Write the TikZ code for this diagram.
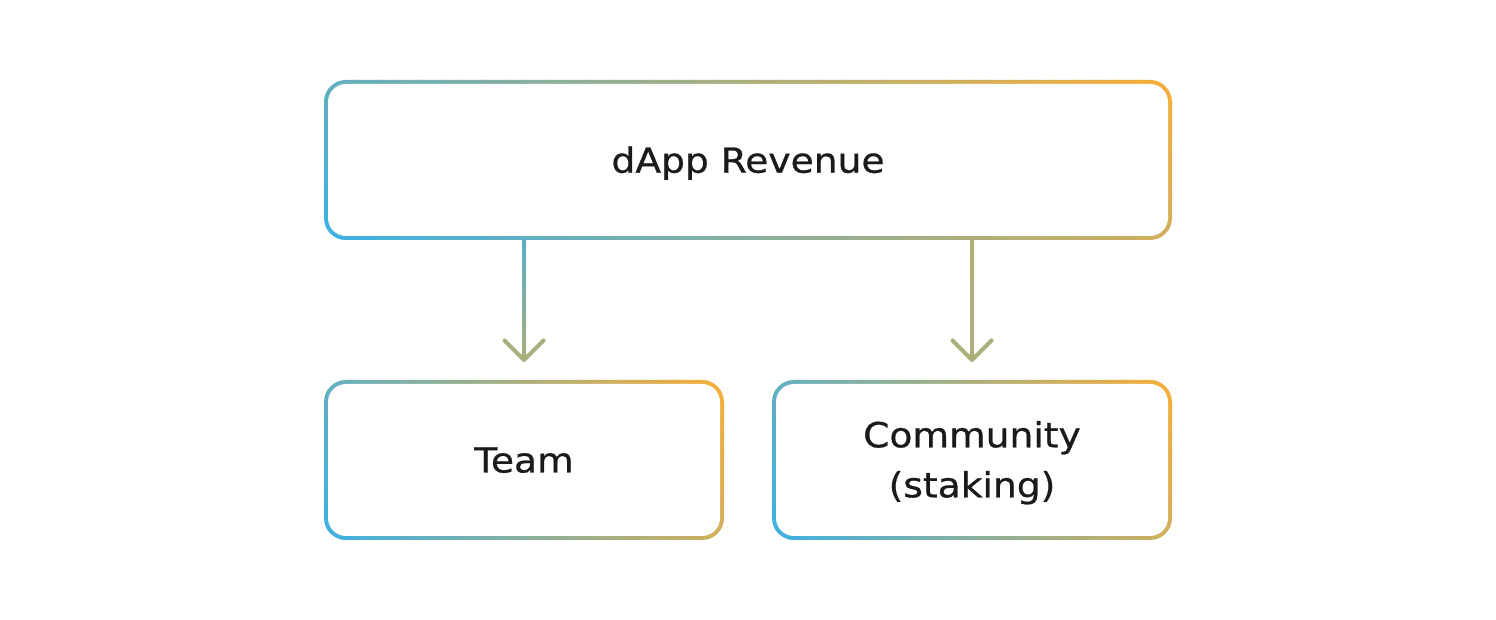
\documentclass[tikz,border=0pt]{standalone}
\usepackage{fontspec}
\setmainfont{DejaVu Sans}[FakeStretch=1.09, FakeBold=0.7]
\usetikzlibrary{calc}
\definecolor{gblue}{HTML}{3DB1E3}
\definecolor{gorange}{HTML}{F7AE39}
\definecolor{txt}{HTML}{1A1A1A}
\definecolor{arLtop}{HTML}{5AAFC8}
\definecolor{arLbot}{HTML}{A8AE7B}
\definecolor{arRtop}{HTML}{B3AE76}
\definecolor{arRbot}{HTML}{ACAE7A}
\tikzset{
  boxarea/.style={minimum width=#1, minimum height=156pt, inner sep=0pt, outer sep=0pt},
  lbl/.style={font=\fontsize{34.5}{50}\selectfont, text=txt, inner sep=0pt, anchor=base, align=center},
  arrowhd/.style={line width=4pt, line cap=round, line join=round},
}
% gradient ring: colour t = 0.8 u + 0.2 v over the box (u,v normalised)
\newcommand\gradring[1]{%
  \begin{scope}
  \clip[rounded corners=22pt]
    ($(#1.south west)+(-2,-2)$) rectangle ($(#1.north east)+(2,2)$);
  \foreach \k in {0,...,54} {
    \pgfmathsetmacro\tA{-0.05+\k*0.02}
    \pgfmathsetmacro\tB{\tA+0.024}
    \pgfmathsetmacro\pc{min(100,max(0,100*(\tA+0.01)))}
    \colorlet{stripc}{gorange!\pc!gblue}
    \fill[stripc] let \p1=(#1.south west), \p2=(#1.north east) in
      ({\x1+(\x2-\x1)*(\tA+0.02)/0.8}, {\y1-0.1*(\y2-\y1)}) --
      ({\x1+(\x2-\x1)*(\tA-0.22)/0.8}, {\y1+1.1*(\y2-\y1)}) --
      ({\x1+(\x2-\x1)*(\tB-0.22)/0.8}, {\y1+1.1*(\y2-\y1)}) --
      ({\x1+(\x2-\x1)*(\tB+0.02)/0.8}, {\y1-0.1*(\y2-\y1)}) -- cycle;
  }
  \end{scope}
  \fill[white, rounded corners=18pt]
    ($(#1.south west)+(2,2)$) rectangle ($(#1.north east)+(-2,-2)$);}
\begin{document}
\begin{tikzpicture}[x=1pt,y=1pt]
\useasboundingbox (0,0) rectangle (1496,620);
\fill[white] (0,0) rectangle (1496,620);
% box areas
\node[boxarea=844pt] (rev) at (748,460) {};
\node[boxarea=396pt] (team) at (524,160) {};
\node[boxarea=396pt] (comm) at (972,160) {};
% gradient borders
\gradring{rev}
\gradring{team}
\gradring{comm}
% labels
\node[lbl] (revt) at (748,447.3) {dApp Revenue};
\node[lbl] (teamt) at (524,147.5) {Team};
\node[lbl] (commt) at (972,122.7) {Community\\(staking)};
% left connector
\coordinate (la) at ($(rev.south -| team.north)+(0,-2)$);
\coordinate (lt) at ($(team.north)+(0,22)$);
\shade[top color=arLtop, bottom color=arLbot, middle color=arLtop!50!arLbot] ($(la)+(-2,0)$) rectangle ($(lt)+(2,0)$);
\draw[arrowhd, draw=arLbot] ($(lt)+(-19.5,19.5)$) -- (lt) -- ($(lt)+(19.5,19.5)$);
% right connector
\coordinate (ra) at ($(rev.south -| comm.north)+(0,-2)$);
\coordinate (rt) at ($(comm.north)+(0,22)$);
\shade[top color=arRtop, bottom color=arRbot, middle color=arRtop!50!arRbot] ($(ra)+(-2,0)$) rectangle ($(rt)+(2,0)$);
\draw[arrowhd, draw=arRbot] ($(rt)+(-19.5,19.5)$) -- (rt) -- ($(rt)+(19.5,19.5)$);
\end{tikzpicture}
\end{document}
